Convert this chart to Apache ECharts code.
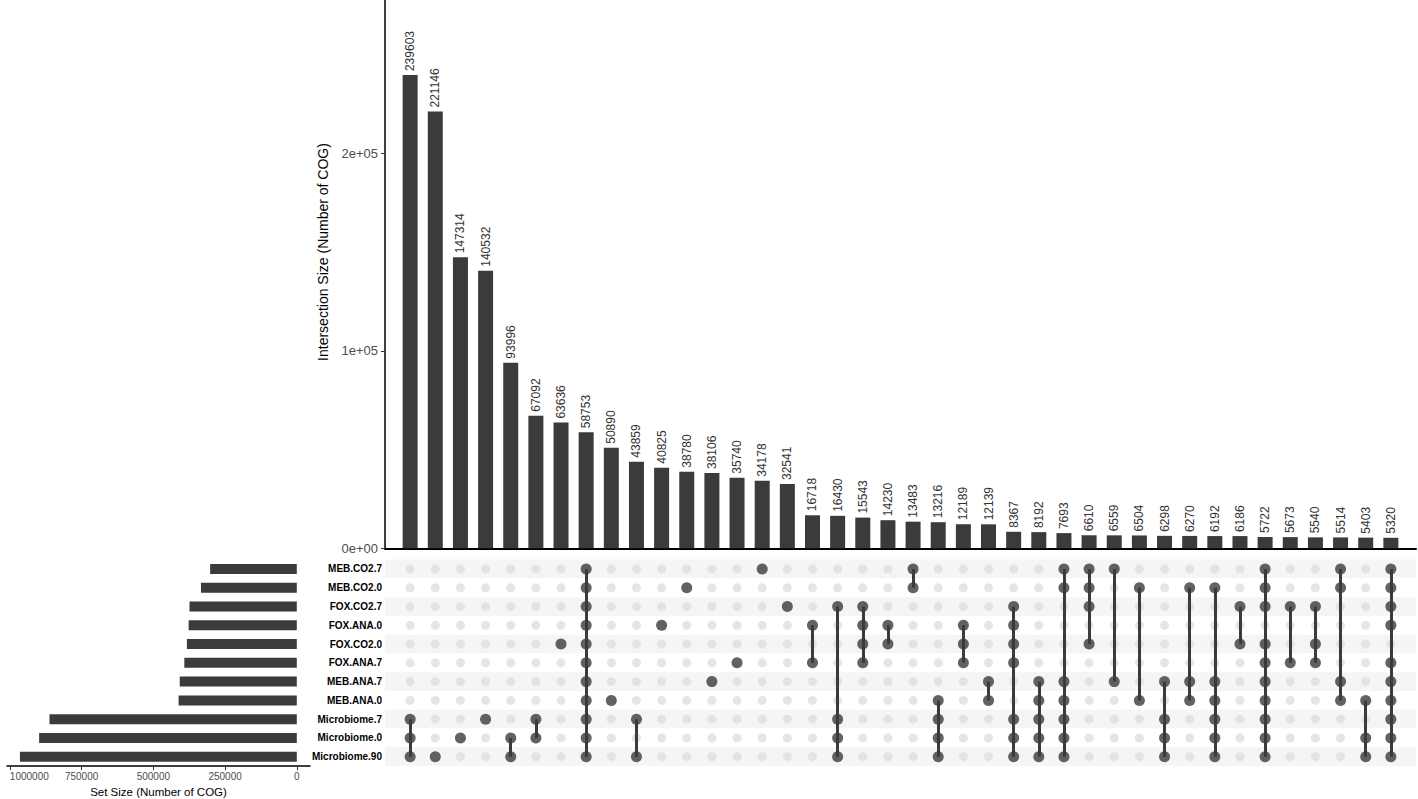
<!DOCTYPE html>
<html>
<head>
<meta charset="utf-8">
<title>COG set intersections</title>
<script src="https://cdn.jsdelivr.net/npm/echarts@6/dist/echarts.min.js"></script>
<style>
html, body { margin: 0; padding: 0; background: #fff; }
#chart { width: 1418px; height: 799px; }
</style>
</head>
<body>
<div id="chart"></div>
<script>
// sets, top to bottom in the matrix
var sets = ['MEB.CO2.7', 'MEB.CO2.0', 'FOX.CO2.7', 'FOX.ANA.0', 'FOX.CO2.0', 'FOX.ANA.7',
  'MEB.ANA.7', 'MEB.ANA.0', 'Microbiome.7', 'Microbiome.0', 'Microbiome.90'];
var setSizes = [302000, 334000, 374000, 377000, 383000, 392000, 408000, 412000, 862000, 898000, 965000];

// intersections, left to right
var intersectionSizes = [239603, 221146, 147314, 140532, 93996, 67092, 63636, 58753, 50890, 43859,
  40825, 38780, 38106, 35740, 34178, 32541, 16718, 16430, 15543, 14230,
  13483, 13216, 12189, 12139, 8367, 8192, 7693, 6610, 6559, 6504,
  6298, 6270, 6192, 6186, 5722, 5673, 5540, 5514, 5403, 5320];
// members of each intersection, as indexes into sets
var intersectionSets = [
  [8, 9, 10], [10], [9], [8], [9, 10], [8, 9], [4], [0, 1, 2, 3, 4, 5, 6, 7, 8, 9, 10], [7], [8, 10],
  [3], [1], [6], [5], [0], [2], [3, 5], [2, 8, 9, 10], [2, 3, 4, 5], [3, 4],
  [0, 1], [7, 8, 9, 10], [3, 4, 5], [6, 7], [2, 3, 4, 5, 8, 9, 10], [6, 7, 8, 9, 10], [0, 1, 6, 7, 8, 9, 10], [0, 1, 2, 4], [0, 6], [1, 7],
  [6, 8, 9, 10], [1, 6, 7], [1, 6, 7, 8, 9, 10], [2, 4], [0, 1, 2, 4, 5, 6, 7, 8, 9, 10], [2, 5], [2, 4, 5], [0, 1, 6, 7], [7, 9, 10], [0, 1, 2, 3, 5, 6, 7, 8, 9, 10]
];

var countTicks = [0, 100000, 200000];
var countTickLabels = ['0e+00', '1e+05', '2e+05'];
var setSizeTicks = [0, 250000, 500000, 750000, 1000000];

var dark = '#3b3b3b';
var font = 'Liberation Sans, Arial, Helvetica, sans-serif';

var barData = intersectionSizes.map(function (v, i) { return [i + 1, v]; });
var emptyDots = [], fullDots = [], links = [];
intersectionSets.forEach(function (rows, i) {
  var x = i + 1;
  sets.forEach(function (s, r) {
    if (rows.indexOf(r) < 0) emptyDots.push([x, s]);
  });
  rows.forEach(function (r) { fullDots.push([x, sets[r]]); });
  if (rows.length > 1) {
    links.push({ coords: [[x, sets[Math.min.apply(null, rows)]], [x, sets[Math.max.apply(null, rows)]]] });
  }
});

var chart = echarts.init(document.getElementById('chart'), null, { renderer: 'svg' });
chart.setOption({
  animation: false,
  textStyle: { fontFamily: font },
  grid: [
    { left: 385, right: 2, top: 0, bottom: 250.7, outerBoundsMode: 'none' },    // intersection bars
    { left: 385, right: 2, top: 559.6, bottom: 32.9, outerBoundsMode: 'none' }, // matrix
    { left: 7, right: 1108, top: 559.6, bottom: 32.9, outerBoundsMode: 'none' } // set sizes
  ],
  xAxis: [
    {
      gridIndex: 0, type: 'value', min: 0, max: 41,
      axisLine: { show: true, onZero: false, lineStyle: { color: '#000', width: 2 } },
      axisTick: { show: false }, axisLabel: { show: false }, splitLine: { show: false }
    },
    { gridIndex: 1, type: 'value', min: 0, max: 41, show: false },
    {
      gridIndex: 2, type: 'value', min: -46000, max: 1010000, inverse: true,
      axisLine: { show: true, lineStyle: { color: '#000', width: 1.5 } },
      axisTick: { show: true, customValues: setSizeTicks, length: 4, lineStyle: { color: '#333' } },
      axisLabel: {
        customValues: setSizeTicks, color: '#4d4d4d', fontSize: 10, margin: 5, hideOverlap: false,
        formatter: function (v) { return String(v); }
      },
      splitLine: { show: false },
      name: 'Set Size (Number of COG)', nameLocation: 'middle', nameGap: 20,
      nameTextStyle: { color: '#000', fontSize: 11.5 }
    }
  ],
  yAxis: [
    {
      gridIndex: 0, type: 'value', min: 0, max: 277600,
      axisLine: { show: true, lineStyle: { color: '#000', width: 1.5 } },
      axisTick: { show: true, customValues: countTicks, length: 4, lineStyle: { color: '#333' } },
      axisLabel: {
        customValues: countTicks, color: '#4d4d4d', fontSize: 13, margin: 7,
        formatter: function (v) { return countTickLabels[countTicks.indexOf(v)]; }
      },
      splitLine: { show: false }
    },
    {
      gridIndex: 1, type: 'category', data: sets, inverse: true,
      axisLine: { show: false }, axisTick: { show: false },
      axisLabel: { color: '#000', fontWeight: 'bold', fontSize: 10, margin: 3 },
      splitArea: { show: true, areaStyle: { color: ['#f5f5f5', '#ffffff'] } }
    },
    { gridIndex: 2, type: 'category', data: sets, inverse: true, show: false }
  ],
  graphic: [{
    type: 'text', x: 323, y: 252, rotation: Math.PI / 2,
    style: {
      text: 'Intersection Size (Number of COG)', fill: '#000',
      fontSize: 14, fontFamily: font, align: 'center', verticalAlign: 'middle'
    }
  }],
  series: [
    {
      type: 'bar', xAxisIndex: 0, yAxisIndex: 0, data: barData, barWidth: 15,
      itemStyle: { color: dark },
      label: {
        show: true, position: 'top', rotate: 90, align: 'left', verticalAlign: 'middle',
        distance: 4, fontSize: 12, color: '#333',
        formatter: function (p) { return p.value[1]; }
      }
    },
    {
      type: 'scatter', xAxisIndex: 1, yAxisIndex: 1, data: emptyDots,
      symbolSize: 9, itemStyle: { color: '#dedede' }, silent: true, z: 2
    },
    {
      type: 'lines', coordinateSystem: 'cartesian2d', xAxisIndex: 1, yAxisIndex: 1, data: links,
      lineStyle: { color: dark, width: 3, opacity: 1 }, silent: true, z: 3
    },
    {
      type: 'scatter', xAxisIndex: 1, yAxisIndex: 1, data: fullDots,
      symbolSize: 11, itemStyle: { color: dark }, silent: true, z: 4
    },
    {
      type: 'bar', xAxisIndex: 2, yAxisIndex: 2, data: setSizes, barWidth: 10,
      itemStyle: { color: dark }
    }
  ]
});
// keep the leftmost set-size tick label inside the page
chart.setOption({ xAxis: [{}, {}, { axisLabel: { alignMaxLabel: 'left' } }] });
</script>
</body>
</html>
